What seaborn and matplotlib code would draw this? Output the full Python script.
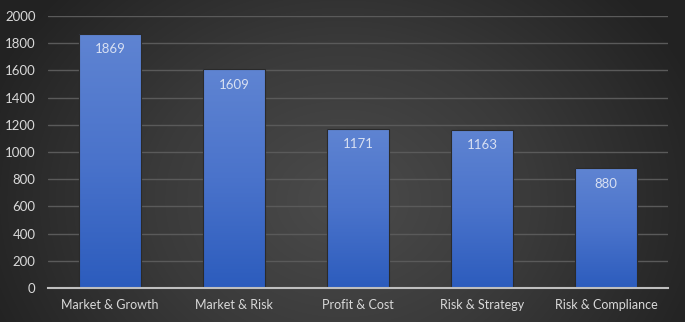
import matplotlib.pyplot as plt
import numpy as np
import pandas as pd
import seaborn as sns
from matplotlib.colors import LinearSegmentedColormap

categories = ["Market & Growth", "Market & Risk", "Profit & Cost", "Risk & Strategy", "Risk & Compliance"]
values = [1869, 1609, 1171, 1163, 880]
y_ticks = [0, 200, 400, 600, 800, 1000, 1200, 1400, 1600, 1800, 2000]


def draw_background(fig):
  # radial grey gradient behind everything
  bg = fig.add_axes([0, 0, 1, 1], zorder=-10)
  h, w = 322, 685
  yy, xx = np.mgrid[0:h, 0:w]
  cx, cy = w * 0.50, h * 0.62
  r = np.sqrt(((xx - cx) / (w * 0.55)) ** 2 + ((yy - cy) / (h * 0.95)) ** 2)
  r = np.clip(r, 0, 1)
  cmap = LinearSegmentedColormap.from_list("bg", ["#4b4b4b", "#3a3a3a", "#232323"])
  bg.imshow(r, cmap=cmap, aspect="auto", extent=(0, 1, 0, 1), vmin=0, vmax=1)
  bg.set_axis_off()


def plot_bars():
  sns.set_style("dark")
  plt.rcParams["font.family"] = ["Lato", "DejaVu Sans"]
  fig = plt.figure(figsize=(6.85, 3.22), dpi=100)
  draw_background(fig)
  ax = fig.add_axes([0.070, 0.1056, 0.905, 0.8444])
  ax.set_facecolor("none")

  df = pd.DataFrame({"category": categories, "value": values})
  sns.barplot(data=df, x="category", y="value", ax=ax, width=0.5,
              color="#4472c4", edgecolor="#2a2a2a", linewidth=0.8, zorder=3)

  # vertical gradient fill for each bar
  grad = np.linspace(0, 1, 256).reshape(-1, 1)
  bar_cmap = LinearSegmentedColormap.from_list("bar", ["#2c5cbd", "#4a73cb", "#5f84d2"])
  for patch in ax.patches:
    x0, y0 = patch.get_x(), patch.get_y()
    w, h = patch.get_width(), patch.get_height()
    im = ax.imshow(grad, cmap=bar_cmap, aspect="auto", origin="lower",
                   extent=(x0, x0 + w, y0, y0 + h), zorder=3.5)
    im.set_clip_path(patch)
    patch.set_facecolor("none")
    patch.set_zorder(4)

  for i, v in enumerate(values):
    ax.annotate(str(v), xy=(i, v), xytext=(0, -11), textcoords="offset points",
                ha="center", va="center", fontsize=9.5, color="#d8e0f2", zorder=5)

  ax.set_xlim(-0.5, len(categories) - 0.5)
  ax.set_ylim(0, 2000)
  ax.set_yticks(y_ticks)
  ax.grid(True, axis="y", color="#5a5a5a", linewidth=1.0, zorder=1)
  ax.xaxis.grid(False)
  ax.set_xlabel("")
  ax.set_ylabel("")
  ax.tick_params(axis="y", length=0, pad=9, labelsize=9.5, labelcolor="#d9d9d9")
  ax.tick_params(axis="x", length=0, pad=8, labelsize=9, labelcolor="#d9d9d9")
  for side in ["top", "right", "left"]:
    ax.spines[side].set_visible(False)
  ax.spines["bottom"].set_color("#bfbfbf")
  ax.spines["bottom"].set_linewidth(1.5)
  ax.spines["bottom"].set_zorder(6)

  fig.savefig("out.png", dpi=100)
  plt.close(fig)


def main():
  plot_bars()


if __name__ == "__main__":
  main()
